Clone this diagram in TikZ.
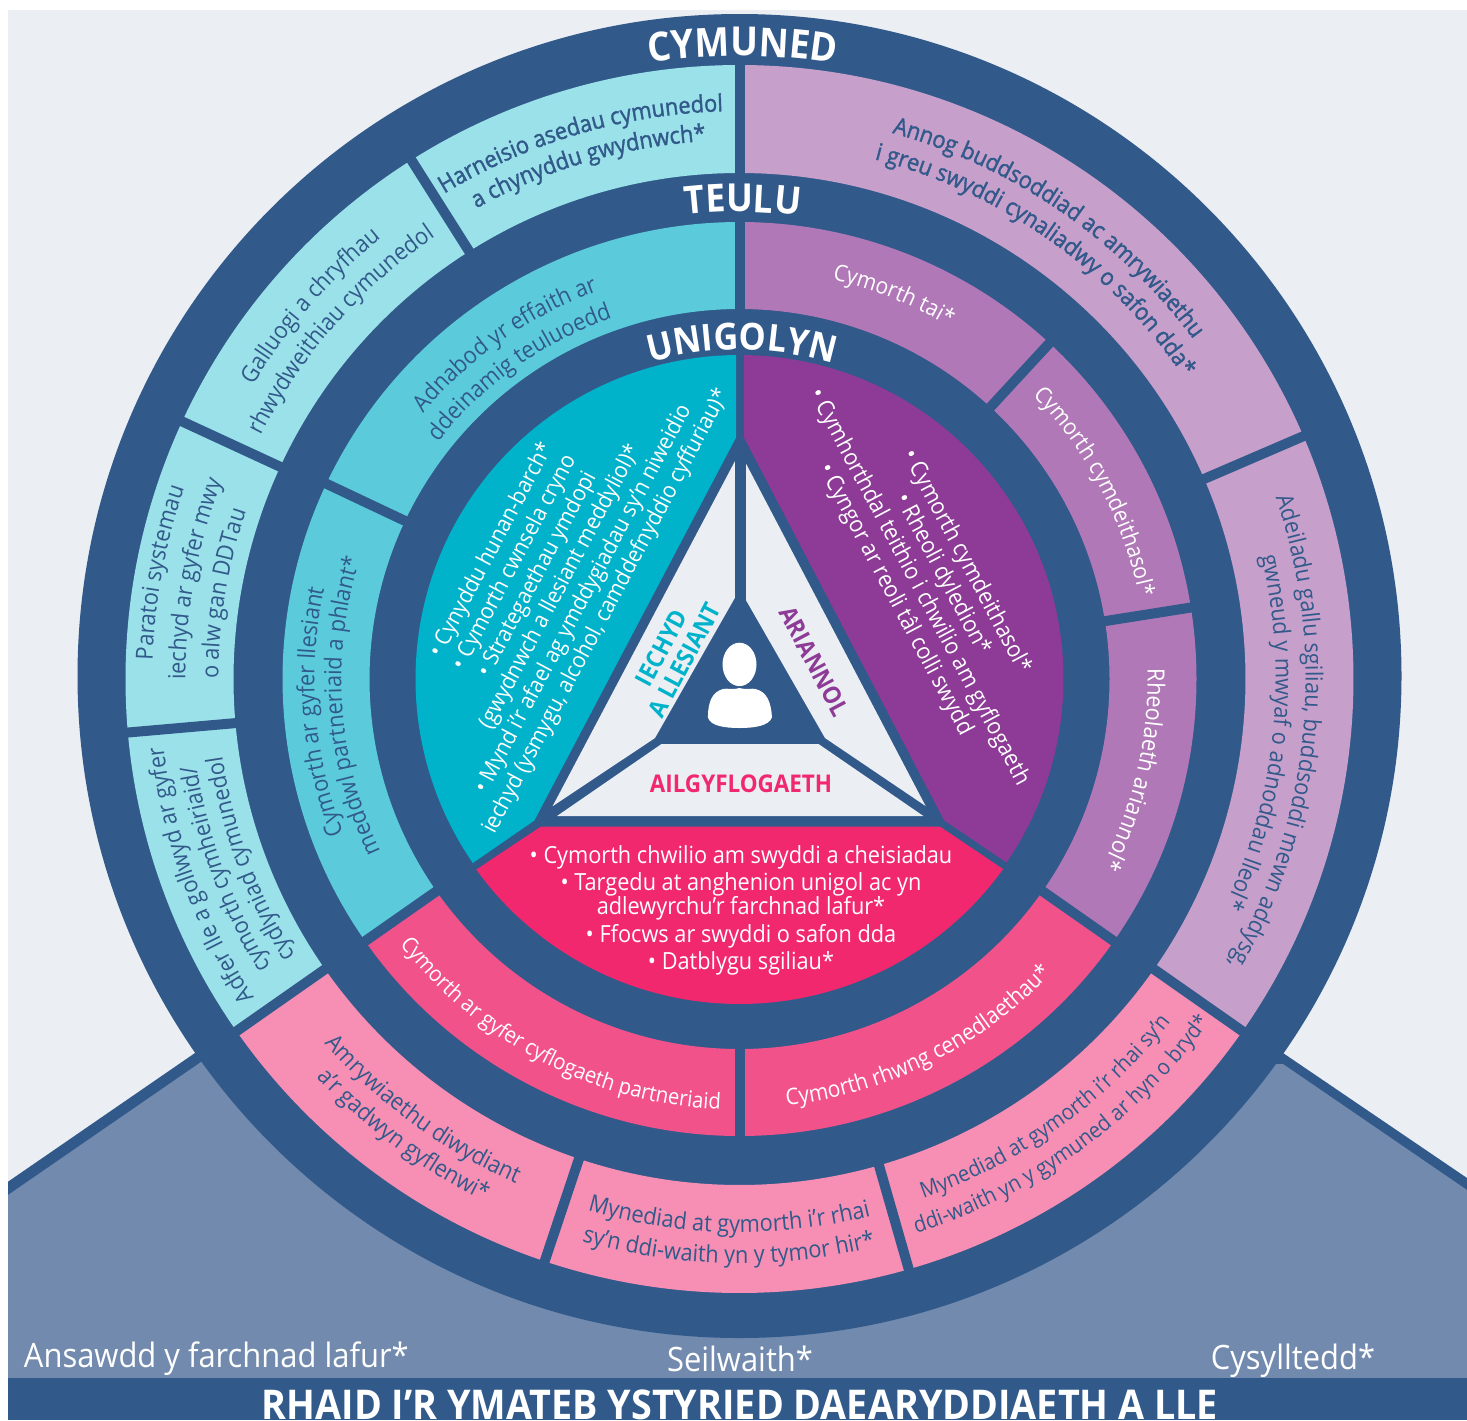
\documentclass[tikz,border=0pt]{standalone}
\usepackage{fontspec}
\setmainfont[FakeStretch=0.92]{Open Sans}
\newfontfamily\medfam[FakeStretch=0.92,FakeBold=1.5]{Open Sans}
\usetikzlibrary{decorations.text}
\definecolor{dk}{HTML}{31598A}
\definecolor{slate}{HTML}{718AAE}
\definecolor{pale}{HTML}{EBEEF3}
\definecolor{cyA}{HTML}{00B3CB}
\definecolor{cyB}{HTML}{5BCBDC}
\definecolor{cyC}{HTML}{9BE1E9}
\definecolor{puA}{HTML}{8D3B96}
\definecolor{puB}{HTML}{B078B7}
\definecolor{puC}{HTML}{C79FCB}
\definecolor{piA}{HTML}{F1286E}
\definecolor{piB}{HTML}{F2528A}
\definecolor{piC}{HTML}{F68FB3}
\newcommand\fBody{\fontsize{11.8}{13}\selectfont}
\newcommand\fBodyS{\fontsize{11}{13}\selectfont}
\newcommand\fBodyT{\fontsize{11.4}{13}\selectfont}
\newcommand\fCyan{\fontsize{11.3}{13}\selectfont}
\newcommand\fPurp{\fontsize{11.6}{13}\selectfont}
\newcommand\fBold{\medfam\fontsize{11.8}{13}\selectfont}
\newcommand\fTiA{\fontsize{20}{23}\bfseries\selectfont}
\newcommand\fTiB{\fontsize{19.3}{23}\bfseries\selectfont}
\newcommand\fTiC{\fontsize{18.6}{23}\bfseries\selectfont}
\newcommand\fTri{\fontsize{12.2}{13}\bfseries\selectfont}
\newcommand\fBase{\fontsize{16.8}{18}\selectfont}
\newcommand\ringseg[5]{\fill[#5] (#3:#2) arc[start angle=#3,end angle=#4,radius=#2] -- (#4:#1) arc[start angle=#4,end angle=#3,radius=#1] -- cycle;}
\newcommand\gapline[3]{\draw[gap] (#3:#1) -- (#3:#2);}
\newcommand\cwarc[5]{\path[decorate,decoration={text along path,text align=center,text color=#4,text={|#3|#5}}] ({#2+75}:#1) arc[start angle={#2+75},end angle={#2-75},radius=#1];}
\newcommand\ccwarc[5]{\path[decorate,decoration={text along path,text align=center,text color=#4,text={|#3|#5}}] ({#2-75}:#1) arc[start angle={#2-75},end angle={#2+75},radius=#1];}
\tikzset{gap/.style={draw=dk,line width=5pt},
  lbl/.style={inner sep=0pt,outer sep=0pt},
  body/.style={lbl,font=\fBody,text=white,align=center}}
\begin{document}
\begin{tikzpicture}[x=0.5pt,y=0.5pt]
\useasboundingbox (0,0) rectangle (1467,-1420);
\fill[white] (0,0) rectangle (1467,-1420);
\fill[pale] (8,-10) rectangle (1467,-1420);
\fill[dk] (8,-1181.7) -- (195,-1053) -- (1283,-1053) -- (1467,-1178) -- (1467,-1378) -- (8,-1378) -- cycle;
\fill[slate] (8,-1195) -- (201,-1062) -- (1283,-1064) -- (1467,-1190) -- (1467,-1378) -- (8,-1378) -- cycle;
\fill[dk] (8,-1378) rectangle (1467,-1420);
\fill[dk] (739.5,-676) circle[radius=662];
\begin{scope}[shift={(739.5,-679)}]
\ringseg{506}{614}{23.3}{90}{puC}
\ringseg{506}{614}{-35}{23.3}{puC}
\ringseg{506}{614}{286}{325}{piC}
\ringseg{506}{614}{251.5}{286}{piC}
\ringseg{506}{614}{215}{251.5}{piC}
\ringseg{506}{614}{185}{215}{cyC}
\ringseg{506}{614}{155.2}{185}{cyC}
\ringseg{506}{614}{122.3}{155.2}{cyC}
\ringseg{506}{614}{90}{122.3}{cyC}
\foreach \a in {90,122.3,155.2,185,215,251.5,286,325,23.3} {\gapline{504}{616}{\a}}
\ringseg{370}{457}{47.3}{90}{puB}
\ringseg{370}{457}{9}{47.3}{puB}
\ringseg{370}{457}{-35}{9}{puB}
\ringseg{370}{457}{270}{325}{piB}
\ringseg{370}{457}{215}{270}{piB}
\ringseg{370}{457}{154.7}{215}{cyB}
\ringseg{370}{457}{90}{154.7}{cyB}
\foreach \a in {90,154.7,215,270,325,9,47.3} {\gapline{368}{459}{\a}}
\fill[cyA] (90.6:324) arc[start angle=90.6,end angle=214.6,radius=324] -- (-205.1,-141.5) -- (-3.5,241.4) -- cycle;
\fill[puA] (89.2:324) arc[start angle=89.2,end angle=-34.5,radius=324] -- (204.7,-141.5) -- (4.5,241.4) -- cycle;
\fill[piA] (215.9:325) arc[start angle=215.9,end angle=324.2,radius=325] -- (200.4,-147.5) -- (-198.5,-147.5) -- cycle;
\cwarc{623}{89.7}{\fTiA}{white}{CYMUNED}
\cwarc{467}{89.6}{\fTiB}{white}{TEULU}
\cwarc{329}{89.6}{\fTiC}{white}{UNIGOLYN}
\cwarc{568}{106.5}{\fBold}{dk}{Harneisio asedau cymunedol}
\cwarc{539}{106.4}{\fBold}{dk}{a chynyddu gwydnwch*}
\cwarc{568}{139}{\fBody}{dk}{Galluogi a chryfhau}
\cwarc{537}{138.8}{\fBody}{dk}{rhwydweithiau cymunedol}
\cwarc{587}{169.6}{\fBody}{dk}{Paratoi systemau}
\cwarc{554}{169.6}{\fBody}{dk}{iechyd ar gyfer mwy}
\cwarc{521}{170.6}{\fBody}{dk}{o alw gan DDTau}
\cwarc{580}{200}{\fBody}{dk}{Adfer lle a gollwyd ar gyfer}
\cwarc{550}{200.3}{\fBody}{dk}{cymorth cymheiriaid/}
\cwarc{523}{200.2}{\fBody}{dk}{cydlyniad cymunedol}
\cwarc{567}{55.6}{\fBold}{dk}{Annog buddsoddiad ac amrywiaethu}
\cwarc{537}{54.8}{\fBold}{dk}{i greu swyddi cynaliadwy o safon dda*}
\cwarc{566}{-5.8}{\fBody}{dk}{Adeiladu gallu sgiliau, buddsoddi mewn addysg,}
\cwarc{536}{-5.9}{\fBody}{dk}{gwneud y mwyaf o adnoddau lleol*}
\ccwarc{552}{233.7}{\fBody}{dk}{Amrywiaethu diwydiant}
\ccwarc{581}{233.6}{\fBody}{dk}{a’r gadwyn gyflenwi*}
\ccwarc{553}{268.9}{\fBody}{dk}{Mynediad at gymorth i’r rhai}
\ccwarc{584}{268.9}{\fBody}{dk}{sy’n ddi-waith yn y tymor hir*}
\ccwarc{551}{305.5}{\fBodyS}{dk}{Mynediad at gymorth i’r rhai sy’n}
\ccwarc{582}{305.8}{\fBodyS}{dk}{ddi-waith yn y gymuned ar hyn o bryd*}
\cwarc{413}{125}{\fBody}{dk}{Adnabod yr effaith ar}
\cwarc{383}{125.6}{\fBody}{dk}{ddeinamig teuluoedd}
\cwarc{425}{184.5}{\fBody}{dk}{Cymorth ar gyfer llesiant}
\cwarc{398}{184}{\fBody}{dk}{meddwl partneriaid a phlant*}
\cwarc{410}{68.1}{\fBodyT}{white}{Cymorth tai*}
\cwarc{408}{27.8}{\fBodyT}{white}{Cymorth cymdeithasol*}
\cwarc{408}{-12.9}{\fBody}{white}{Rheolaeth ariannol*}
\ccwarc{431}{242.7}{\fBodyS}{white}{Cymorth ar gyfer cyflogaeth partneriaid}
\ccwarc{429}{296.5}{\fBodyT}{white}{Cymorth rhwng cenedlaethau*}
\end{scope}
\fill[pale] (734.8,-461.4) -- (734.8,-598) -- (655,-738) -- (552.6,-806.2) -- cycle;
\fill[pale] (746,-463.6) -- (746,-600.2) -- (825,-738) -- (925.6,-806) -- cycle;
\fill[pale] (661.5,-744) -- (818.5,-744) -- (923.4,-816) -- (557,-816) -- cycle;
\fill[white] (739.5,-664.4) ellipse[x radius=17,y radius=21.7];
\fill[white] (739.5,-688) .. controls (732,-690) and (728,-688) .. (723,-689) .. controls (712,-692) and (708,-702) .. (707.9,-717.3) .. controls (710,-726) and (725,-728) .. (739.5,-728) .. controls (754,-728) and (769,-726) .. (772,-717.3) .. controls (771,-702) and (767,-692) .. (755.6,-689) .. controls (751,-688) and (747,-690) .. (739.5,-688) -- cycle;
\node[lbl,font=\fTri,text=cyA,align=center,rotate=62] (iechyd) at (673,-654) {IECHYD\\A LLESIANT};
\node[lbl,font=\fTri,text=puA,rotate=-62] (arian) at (814,-661) {ARIANNOL};
\node[lbl,font=\fTri,text=piA] (ailg) at (741,-783.6) {AILGYFLOGAETH};
\node[body,font=\fCyan,rotate=62] (cynyddu) at (549,-581) {• Cynyddu hunan-barch*\\• Cymorth cwnsela cryno\\• Strategaethau ymdopi\\(gwydnwch a llesiant meddyliol)*\\• Mynd i’r afael ag ymddygiadau sy’n niweidio\\iechyd (ysmygu, alcohol, camddefnyddio cyffuriau)*};
\node[body,font=\fPurp,rotate=-62] (cymorth) at (930.5,-581) {• Cymorth cymdeithasol*\\[0.4pt]• Rheoli dyledion*\\[0.4pt]• Cymhorthdal teithio i chwilio am gyflogaeth\\[0.4pt]• Cyngor ar reoli tâl colli swydd};
\node[body] (chwilio) at (741,-910) {• Cymorth chwilio am swyddi a cheisiadau\\[0.5pt]• Targedu at anghenion unigol ac yn\\[-1pt]adlewyrchu’r farchnad lafur*\\[1pt]• Ffocws ar swyddi o safon dda\\[0.5pt]• Datblygu sgiliau*};
\node[lbl,anchor=base west,font=\fBase,text=white] (ansawdd) at (24,-1367.5) {Ansawdd y farchnad lafur*};
\node[lbl,anchor=base,font=\fBase,text=white] (seilwaith) at (740,-1371) {Seilwaith*};
\node[lbl,anchor=base,font=\fBase,text=white] (cysyll) at (1293,-1369.5) {Cysylltedd*};
\node[lbl,anchor=base,font=\fontsize{20.5}{22}\bfseries\selectfont,text=white] (rhaid) at (740,-1419) {RHAID I’R YMATEB YSTYRIED DAEARYDDIAETH A LLE};
\end{tikzpicture}
\end{document}
